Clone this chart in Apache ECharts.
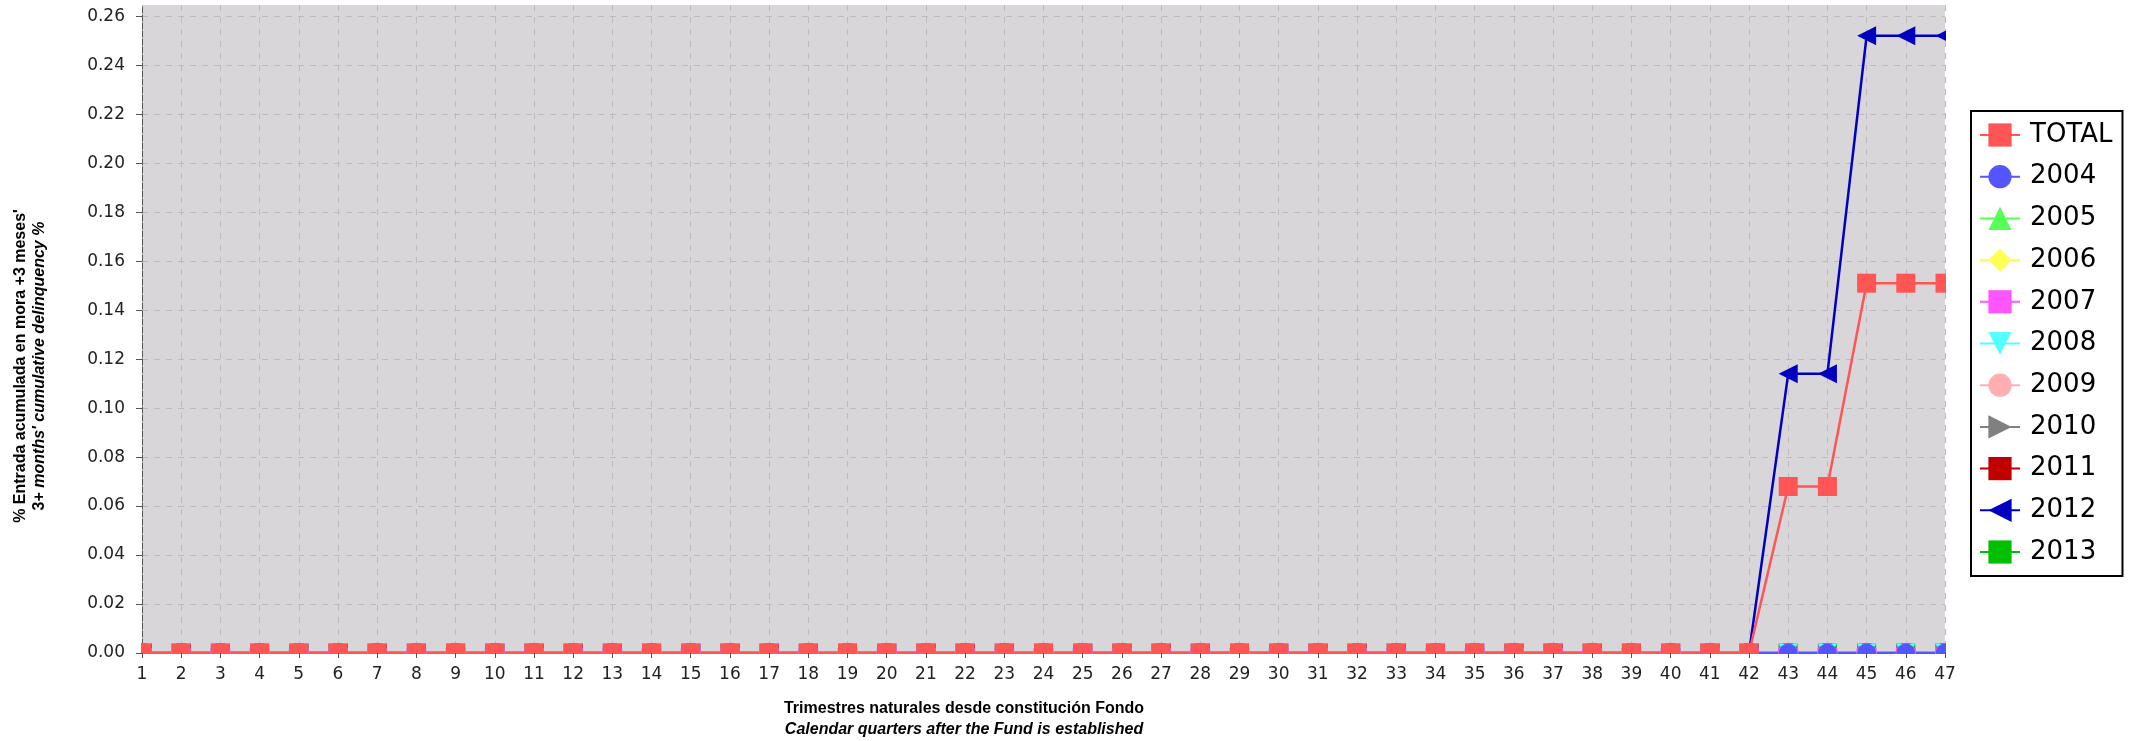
<!DOCTYPE html>
<html><head><meta charset="utf-8">
<script src="https://cdn.jsdelivr.net/npm/echarts@6/dist/echarts.min.js"></script>
<style>html,body{margin:0;padding:0;background:#fff}#c{width:2138px;height:741px}</style>
</head><body><div id="c"></div>
<script>
// ---------------- data ----------------
const quarters = ['1','2','3','4','5','6','7','8','9','10','11','12','13','14','15','16','17','18','19','20','21','22','23','24','25','26','27','28','29','30','31','32','33','34','35','36','37','38','39','40','41','42','43','44','45','46','47'];
const valuesTotal = [0,0,0,0,0,0,0,0,0,0,0,0,0,0,0,0,0,0,0,0,0,0,0,0,0,0,0,0,0,0,0,0,0,0,0,0,0,0,0,0,0,0,0.068,0.068,0.151,0.151,0.151];
const values2012  = [0,0,0,0,0,0,0,0,0,0,0,0,0,0,0,0,0,0,0,0,0,0,0,0,0,0,0,0,0,0,0,0,0,0,0,0,0,0,0,0,0,0,0.114,0.114,0.252,0.252,0.252];
const valuesZero  = [0,0,0,0,0,0,0,0,0,0,0,0,0,0,0,0,0,0,0,0,0,0,0,0,0,0,0,0,0,0,0,0,0,0,0,0,0,0,0,0,0,0,0,0,0,0,0];
const seriesNames = ['TOTAL','2004','2005','2006','2007','2008','2009','2010','2011','2012','2013'];
const seriesValues = {
  'TOTAL': valuesTotal, '2004': valuesZero, '2005': valuesZero, '2006': valuesZero,
  '2007': valuesZero, '2008': valuesZero, '2009': valuesZero, '2010': valuesZero,
  '2011': valuesZero, '2012': values2012, '2013': valuesZero
};
const yMin = 0, yMax = 0.2646, yStep = 0.02;
const yTitle1 = "% Entrada acumulada en mora +3 meses'";
const yTitle2a = "3+ ";
const yTitle2b = "months' cumulative delinquency %";
const xTitle1 = "Trimestres naturales desde constitución Fondo";
const xTitle2 = "Calendar quarters after the Fund is established";

// ---------------- styles ----------------
const styles = {
  'TOTAL': {color:'#FF5555', symbol:'rect', size:19, rotate:0},
  '2004':  {color:'#5555FF', symbol:'circle', size:19, rotate:0},
  '2005':  {color:'#55FF55', symbol:'triangle', size:19, rotate:0},
  '2006':  {color:'#FFFF55', symbol:'diamond', size:19, rotate:0},
  '2007':  {color:'#FF55FF', symbol:'rect', size:[20,10], rotate:0},
  '2008':  {color:'#55FFFF', symbol:'triangle', size:19, rotate:180},
  '2009':  {color:'#FFAFAF', symbol:'circle', size:[20,10], rotate:0},
  '2010':  {color:'#808080', symbol:'triangle', size:19, rotate:-90},
  '2011':  {color:'#C00000', symbol:'rect', size:[10,20], rotate:0},
  '2012':  {color:'#0000C0', symbol:'triangle', size:19, rotate:90},
  '2013':  {color:'#00C000', symbol:'rect', size:19, rotate:0}
};

const W = 2138, H = 741;
const GL = 142, GR = 193, GT = 5, GB = 88;
const tickFont = 'DejaVu Sans';
const titleFont = 'Liberation Sans';

const series = seriesNames.slice().reverse().map(name => {
  const s = styles[name];
  return {
    name: name, type: 'line', data: seriesValues[name],
    xAxisIndex: 0, yAxisIndex: 0,
    symbol: s.symbol, symbolSize: s.size, symbolRotate: s.rotate,
    showAllSymbol: true, clip: false,
    lineStyle: {color: s.color, width: 2.5},
    itemStyle: {color: s.color},
    emphasis: {disabled: true},
    animation: false, z: 2
  };
});

const chart = echarts.init(document.getElementById('c'), null, {renderer: 'canvas', width: W, height: H});
const gridLine = {show: true, lineStyle: {color: '#BDBBBD', width: 1, type: [6, 6]}};
const titleRich = (italic, lh) => ({fontFamily: titleFont, fontWeight: 'bold', fontStyle: italic ? 'italic' : 'normal', fontSize: 16, fill: '#000', lineHeight: lh});
chart.setOption({
  backgroundColor: '#FFFFFF',
  animation: false,
  grid: {left: GL, right: GR, top: GT, bottom: GB, containLabel: false, show: true, backgroundColor: '#D8D6D8', borderWidth: 0},
  xAxis: [
    {type: 'category', data: quarters, boundaryGap: false, position: 'bottom', z: 0,
     axisLine: {show: true, lineStyle: {color: '#999999', width: 1}},
     axisTick: {show: false}, axisLabel: {show: false},
     splitLine: Object.assign({interval: 0}, gridLine)},
    {type: 'category', data: quarters, boundaryGap: false, position: 'bottom', z: 10,
     axisLine: {show: false},
     axisTick: {show: true, interval: 0, length: 5, lineStyle: {color: '#555555', width: 1}},
     axisLabel: {show: true, interval: 0, margin: 13, color: '#222222', fontFamily: tickFont, fontSize: 17},
     splitLine: {show: false}}
  ],
  yAxis: [
    {type: 'value', min: yMin, max: yMax, interval: yStep, position: 'left', z: 0,
     axisLine: {show: true, lineStyle: {color: '#555555', width: 1, type: [6, 2]}},
     axisTick: {show: false}, axisLabel: {show: false},
     splitLine: Object.assign({showMaxLine: false, showMinLine: false}, gridLine)},
    {type: 'value', min: yMin, max: yMax, interval: yStep, position: 'left', z: 10, offset: 0,
     axisLine: {show: false},
     axisTick: {show: true, length: 6, lineStyle: {color: '#555555', width: 1}},
     axisLabel: {show: true, margin: 17, showMaxLabel: false, color: '#222222', fontFamily: tickFont, fontSize: 17,
                 formatter: v => (Math.abs(v / yStep - Math.round(v / yStep)) < 1e-6 ? v.toFixed(2) : '')},
     splitLine: {show: false}}
  ],
  legend: {
    show: true, orient: 'vertical', left: 1971, top: 111, z: 10,
    data: seriesNames,
    backgroundColor: '#FFFFFF', borderColor: '#000000', borderWidth: 2,
    padding: [9, 10, 9, 8], itemGap: 11.7, itemWidth: 40, itemHeight: 29,
    textStyle: {fontFamily: tickFont, fontSize: 26, color: '#000000', lineHeight: 30, padding: [0, 0, 0, 5]},
    selectedMode: false
  },
  graphic: [
    {type: 'rect', z: 3, silent: true, shape: {x: 0, y: 0, width: GL - 1, height: H}, style: {fill: '#FFFFFF'}},
    {type: 'rect', z: 3, silent: true, shape: {x: 0, y: H - GB + 1, width: W, height: GB}, style: {fill: '#FFFFFF'}},
    {type: 'rect', z: 3, silent: true, shape: {x: W - GR + 1, y: 0, width: GR, height: H}, style: {fill: '#FFFFFF'}},
    {type: 'text', z: 11, silent: true, x: 30.5, y: 366, rotation: Math.PI / 2,
     style: {
       text: '{a|' + yTitle1 + '}\n{b|' + yTitle2a + '}{c|' + yTitle2b + '}',
       align: 'center', verticalAlign: 'middle',
       rich: {a: titleRich(false, 19), b: titleRich(false, 19), c: titleRich(true, 19)}
     }},
    {type: 'text', z: 11, silent: true, x: 964, y: 719,
     style: {
       text: '{a|' + xTitle1 + '}\n{c|' + xTitle2 + '}',
       align: 'center', verticalAlign: 'middle',
       rich: {a: titleRich(false, 21), c: titleRich(true, 21)}
     }}
  ],
  series: series
});
</script>
</body></html>
